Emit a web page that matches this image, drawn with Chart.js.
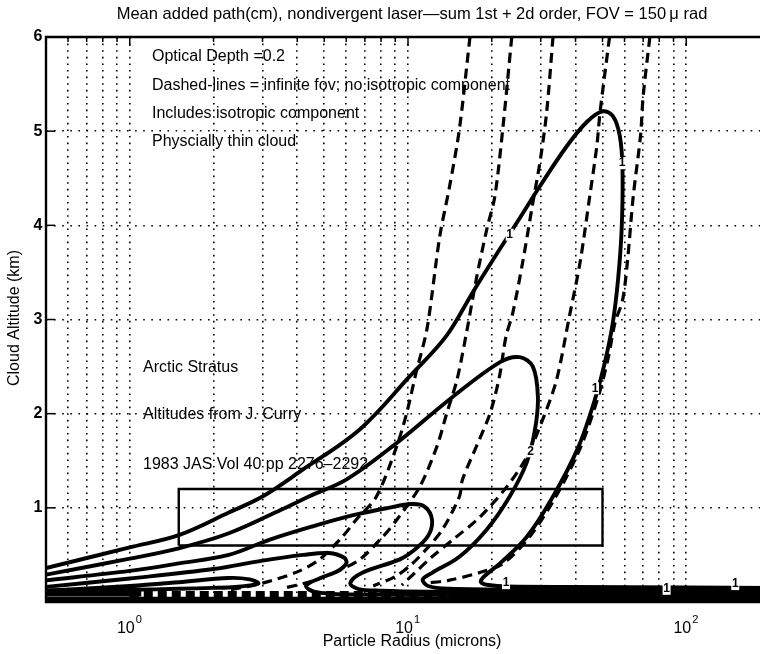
<!DOCTYPE html>
<html><head><meta charset="utf-8">
<script src="https://cdn.jsdelivr.net/npm/chart.js@4.4.0/dist/chart.umd.min.js"></script>
<style>
html,body{margin:0;padding:0;background:#fff;overflow:hidden;width:760px;height:654px;}
#wrap{position:absolute;left:0;top:0;width:780px;height:654px;}
</style></head><body>
<div id="wrap"><canvas id="c" width="780" height="654"></canvas></div>
<script>
// ---- data (radius in microns, altitude in km) ----
const xGridVals = [0.6,0.7,0.8,0.9,1,2,3,4,5,6,7,8,9,10,20,30,40,50,60,70,80,90,100];
const xMajorVals = [1,10,100];
const xMajorLabels = ['0','1','2'];
const yTickVals = [1,2,3,4,5,6];

// solid contours (includes isotropic component)
const solidA_R = [0.5,1,1.5,2.27,3,4.16,6.69,10.1,13.7,17.1,21.3,25,29.7,37.2,44,50,54.5,57.7,59,58.6,56.9,54.5,51.5,47.5,41,33.2,26.7,21.4,18.6,18.3,19.5,23,40,100,200];
const solidA_A = [0.36,0.58,0.71,0.95,1.12,1.40,1.83,2.39,2.82,3.29,3.74,4.06,4.41,4.84,5.10,5.21,5.16,4.95,4.6,3.96,3.43,2.97,2.6,2.2,1.65,1.12,0.69,0.41,0.26,0.21,0.18,0.165,0.16,0.155,0.15];
const solidB_R = [0.5,1,1.5,2.27,3.5,4.4,6,8.77,14.5,21.5,25.2,28.1,29.3,28.6,26.7,23.2,19.2,15.3,12.2,11.3,11.8,14,30,200];
const solidB_A = [0.29,0.46,0.57,0.73,0.98,1.12,1.30,1.65,2.18,2.55,2.60,2.50,2.18,1.83,1.48,1.12,0.77,0.48,0.31,0.24,0.17,0.14,0.13,0.12];
const solidC_R = [0.5,1,1.5,2.27,3.17,4.5,6.3,8.5,10.3,11.5,12.2,11.8,10.5,9.3,6.85,6.2,6.6,8,12,200];
const solidC_A = [0.23,0.33,0.41,0.50,0.66,0.80,0.92,1.0,1.04,1.01,0.87,0.70,0.55,0.45,0.31,0.2,0.14,0.12,0.11,0.10];
const solidD_R = [0.5,1,2,3,4.2,5.2,5.9,6.0,5.6,4.8,4.3,4.6,6,200];
const solidD_A = [0.16,0.25,0.35,0.44,0.5,0.52,0.47,0.41,0.33,0.25,0.17,0.11,0.08,0.07];
const solidE_R = [0.5,1,1.5,2.27,2.7,2.9,2.75,2.4,2.0,1.5,1.0,0.5];
const solidE_A = [0.12,0.17,0.21,0.255,0.24,0.2,0.18,0.16,0.15,0.14,0.13,0.12];
// dense low-altitude contours merging into a band
const baseR = [0.5,200];
const baseA = [0.03,0.03];
const teethR = [1.0,16];
const teethA = [0.08,0.08];
const bandLeftR = [0.5,1.1];
const bandLeftA = [0.1,0.1];
const bandRightR = [14,200];
const bandRightA = [0.09,0.09];

// dashed contours (infinite fov, no isotropic component)
const dash1_R = [16.7,15.3,14.1,13.0,11.7,10.7,9.9,9.1,7.7,6.5,5.8,4.8,4.0,3.0,2.2];
const dash1_A = [6.0,5.02,4.41,3.88,2.9,2.44,2.01,1.65,1.12,0.87,0.69,0.45,0.32,0.2,0.12];
const dash2_R = [23.6,21.9,20.5,19.2,17.6,16.3,15,13.8,12.7,11,9.1,8.1,6.7,5.6,4.5,3.5];
const dash2_A = [6.0,5.02,4.3,3.96,3.43,2.89,2.36,2.01,1.65,1.22,0.87,0.69,0.45,0.33,0.22,0.14];
const dash3_R = [33.2,31.5,29.8,28.1,25.8,23.8,22.5,21.3,19.7,17.6,15.7,15.3,13.3,11.8,10.3,9,7.5];
const dash3_A = [6.0,5.2,4.67,4.24,3.6,3.07,2.82,2.39,2.0,1.65,1.3,1.12,0.77,0.58,0.4,0.27,0.17];
const dash4_R = [53,49,47.7,45,41.5,38,34.2,30.5,26.7,22.6,18.1,14.9,12.2,10.5,9.5];
const dash4_A = [6.0,5.2,4.84,4.31,3.6,3.03,2.36,1.94,1.54,1.22,0.9,0.69,0.48,0.3,0.18];
const dash5_R = [74,70,68.5,64.5,61.4,59,55.5,52.5,48.5,41.8,34,27.3,22,18,14,11.5];
const dash5_A = [6.0,5.37,4.95,4.31,3.6,3.2,2.97,2.6,2.2,1.65,1.12,0.69,0.41,0.31,0.23,0.2];

// box (Arctic stratus altitudes)
const boxR = [1.5,50,50,1.5,1.5];
const boxA = [0.6,0.6,1.2,1.2,0.6];

// contour labels
const cLabelR = [23.2,58.8,47,27.6,22.5,85,150];
const cLabelA = [3.9,4.66,2.27,1.6,0.2,0.14,0.19];
const cLabelT = ['1','1','1','2','1','1','1'];

const pts = (R,A) => R.map((r,i)=>({x:r,y:A[i]}));
const solid = (R,A,w) => ({data:pts(R,A),showLine:true,borderColor:'#000',borderWidth:w||3.9,pointRadius:0,tension:0.35,fill:false});
const dashed = (R,A) => ({data:pts(R,A),showLine:true,borderColor:'#000',borderWidth:3.2,borderDash:[10,6],pointRadius:0,tension:0.3,fill:false});
const flat = (R,A,w,d) => ({data:pts(R,A),showLine:true,borderColor:'#000',borderWidth:w,borderDash:d||[],pointRadius:0,tension:0});

const FONT = '"Liberation Sans", Arial, Helvetica, sans-serif';

const deco = {
  id:'deco',
  beforeDatasetsDraw(chart){
    const {ctx, chartArea:a, scales:{x,y}} = chart;
    ctx.save();
    ctx.strokeStyle='#000';
    ctx.lineWidth=1.5;
    xGridVals.forEach(v=>{
      const px=x.getPixelForValue(v);
      const len = xMajorVals.includes(v)?9:5;
      ctx.beginPath();ctx.moveTo(px,a.top);ctx.lineTo(px,a.top+len);ctx.stroke();
      ctx.beginPath();ctx.moveTo(px,a.bottom);ctx.lineTo(px,a.bottom-len);ctx.stroke();
    });
    yTickVals.forEach(v=>{
      const py=y.getPixelForValue(v);
      ctx.beginPath();ctx.moveTo(a.left,py);ctx.lineTo(a.left+9,py);ctx.stroke();
    });
    ctx.restore();
  },
  afterDatasetsDraw(chart){
    const {ctx, chartArea:a, scales:{x,y}} = chart;
    ctx.save();
    ctx.strokeStyle='#000';ctx.lineWidth=2.4;
    ctx.beginPath();
    ctx.moveTo(a.right+5,a.top);ctx.lineTo(a.left,a.top);ctx.lineTo(a.left,a.bottom);ctx.lineTo(a.right+5,a.bottom);
    ctx.stroke();
    ctx.font='bold 12px '+FONT;ctx.textAlign='center';ctx.textBaseline='middle';
    cLabelR.forEach((r,i)=>{
      const px=x.getPixelForValue(r), py=y.getPixelForValue(cLabelA[i]);
      ctx.fillStyle='#fff';ctx.fillRect(px-4,py-6,8,12);
      ctx.fillStyle='#000';ctx.fillText(cLabelT[i],px,py);
    });
    ctx.fillStyle='#000';
    ctx.font='16.5px '+FONT;
    ctx.textAlign='center';ctx.textBaseline='middle';
    ctx.fillText('Mean added path(cm), nondivergent laser\u2014sum 1st + 2d order, FOV = 150\u2009\u03bc rad',412,14);
    ctx.font='16px '+FONT;
    ctx.fillText('Particle Radius (microns)',412,642);
    ctx.save();ctx.translate(15,318);ctx.rotate(-Math.PI/2);ctx.fillText('Cloud Altitude (km)',0,0);ctx.restore();
    ctx.font='bold 16px '+FONT;
    yTickVals.forEach(v=>{ctx.fillText(String(v),38,y.getPixelForValue(v));});
    xMajorVals.forEach((v,i)=>{
      const px=x.getPixelForValue(v);
      ctx.font='16px '+FONT;ctx.textAlign='right';
      ctx.fillText('10',px+5,629);
      ctx.font='11px '+FONT;ctx.textAlign='left';
      ctx.fillText(xMajorLabels[i],px+6,620);
    });
    ctx.font='16px '+FONT;ctx.textAlign='left';
    const L=a.left+106;
    ctx.fillText('Optical Depth =0.2',L,57);
    ctx.fillText('Dashed-lines = infinite fov; no isotropic component',L,86);
    ctx.fillText('Includes isotropic component',L,114);
    ctx.fillText('Physcially thin cloud',L,142);
    ctx.fillText('Arctic Stratus',L-9,368);
    ctx.fillText('Altitudes from J. Curry',L-9,415);
    ctx.fillText('1983 JAS Vol 40 pp 2276\u20132292',L-9,465);
    ctx.restore();
  }
};

new Chart(document.getElementById('c'),{
  type:'scatter',
  data:{datasets:[
    dashed(dash1_R,dash1_A),dashed(dash2_R,dash2_A),dashed(dash3_R,dash3_A),dashed(dash4_R,dash4_A),dashed(dash5_R,dash5_A),
    solid(solidA_R,solidA_A),solid(solidB_R,solidB_A),solid(solidC_R,solidC_A),solid(solidD_R,solidD_A),solid(solidE_R,solidE_A),
    flat(baseR,baseA,5),
    flat(teethR,teethA,7,[9,5]),
    flat(bandLeftR,bandLeftA,8),
    flat(bandRightR,bandRightA,9),
    flat(boxR,boxA,2.4)
  ]},
  options:{
    responsive:false,animation:false,devicePixelRatio:1,
    layout:{padding:{left:46,top:37,right:10,bottom:52}},
    plugins:{legend:{display:false},tooltip:{enabled:false}},
    scales:{
      x:{type:'logarithmic',min:0.5,max:200,
        afterBuildTicks:s=>{s.ticks=xGridVals.map(v=>({value:v}));},
        afterFit:s=>{s.height=0;},
        ticks:{display:false},
        grid:{color:'#000',lineWidth:1.6,drawTicks:false},
        border:{display:false,dash:[1.6,5]}},
      y:{type:'linear',min:0,max:6,
        afterBuildTicks:s=>{s.ticks=yTickVals.map(v=>({value:v}));},
        afterFit:s=>{s.width=0;},
        ticks:{display:false},
        grid:{color:'#000',lineWidth:1.6,drawTicks:false},
        border:{display:false,dash:[1.6,6.5]}}
    }
  },
  plugins:[deco]
});
</script></body></html>
